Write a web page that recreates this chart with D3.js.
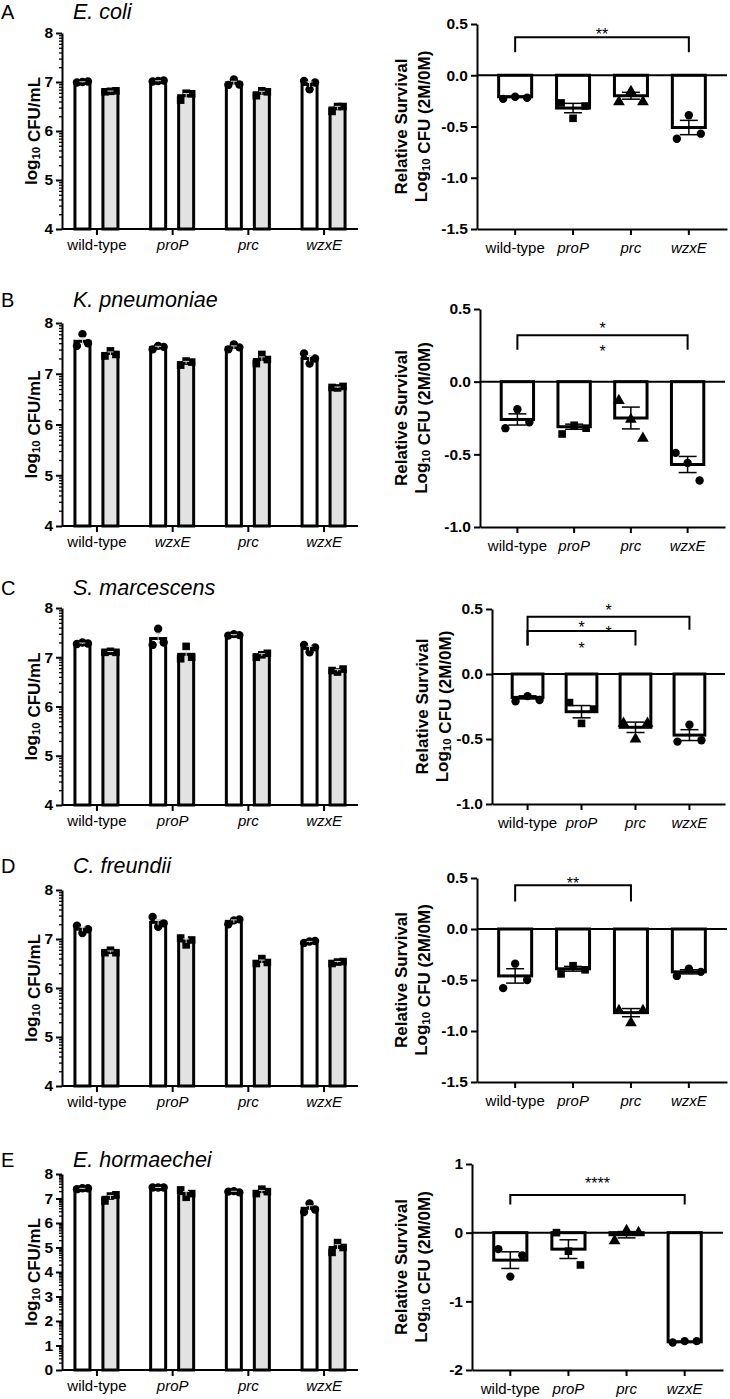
<!DOCTYPE html>
<html>
<head>
<meta charset="utf-8">
<script src="https://cdn.jsdelivr.net/npm/d3@7.9.0/dist/d3.min.js"></script>
<style>
  body { margin: 0; background: #fff; }
  svg text { font-family: 'Liberation Sans', Arial, Helvetica, sans-serif; fill: #000; }
</style>
</head>
<body>
<div id="chart"></div>
<script>
// ---- data ----
const panelLetters = ['A', 'B', 'C', 'D', 'E'];
const species = ['E. coli', 'K. pneumoniae', 'S. marcescens', 'C. freundii', 'E. hormaechei'];

// left charts: log10 CFU/mL, white = 0M, grey = 2M
const cfuGroups = [
  ['wild-type', 'proP', 'prc', 'wzxE'],
  ['wild-type', 'wzxE', 'prc', 'wzxE'],   // printed this way in the figure
  ['wild-type', 'proP', 'prc', 'wzxE'],
  ['wild-type', 'proP', 'prc', 'wzxE'],
  ['wild-type', 'proP', 'prc', 'wzxE']
];
const cfuTicks = [
  [4, 5, 6, 7, 8],
  [4, 5, 6, 7, 8],
  [4, 5, 6, 7, 8],
  [4, 5, 6, 7, 8],
  [0, 1, 2, 3, 4, 5, 6, 7, 8]
];
const cfu0M = [
  [7.00, 7.02, 6.98, 6.95],
  [7.64, 7.52, 7.52, 7.30],
  [7.28, 7.38, 7.45, 7.18],
  [7.20, 7.34, 7.36, 6.94],
  [7.40, 7.45, 7.28, 6.60]
];
const cfu2M = [
  [6.81, 6.72, 6.78, 6.47],
  [7.40, 7.22, 7.28, 6.73],
  [7.11, 7.06, 7.05, 6.73],
  [6.74, 6.96, 6.54, 6.53],
  [7.05, 7.20, 7.28, 5.00]
];
const cfu0MPts = [
  [[6.99, 7.00, 7.01], [7.01, 7.02, 7.03], [6.94, 7.05, 6.95], [7.02, 6.85, 6.99]],
  [[7.55, 7.78, 7.60], [7.48, 7.55, 7.53], [7.48, 7.58, 7.52], [7.40, 7.20, 7.30]],
  [[7.27, 7.30, 7.28], [7.25, 7.58, 7.30], [7.44, 7.47, 7.45], [7.25, 7.10, 7.20]],
  [[7.27, 7.12, 7.20], [7.45, 7.25, 7.32], [7.30, 7.38, 7.40], [6.92, 6.95, 6.96]],
  [[7.38, 7.42, 7.42], [7.45, 7.45, 7.45], [7.28, 7.30, 7.25], [6.45, 6.80, 6.55]]
];
const cfu2MPts = [
  [[6.80, 6.81, 6.82], [6.63, 6.77, 6.76], [6.72, 6.82, 6.80], [6.40, 6.50, 6.50]],
  [[7.35, 7.45, 7.38], [7.17, 7.25, 7.23], [7.20, 7.38, 7.28], [6.73, 6.72, 6.75]],
  [[7.10, 7.12, 7.10], [6.97, 7.22, 7.00], [7.00, 7.05, 7.08], [6.73, 6.70, 6.76]],
  [[6.72, 6.77, 6.72], [7.02, 6.88, 6.98], [6.50, 6.60, 6.52], [6.50, 6.53, 6.54]],
  [[6.90, 7.10, 7.15], [7.35, 7.05, 7.20], [7.20, 7.38, 7.28], [4.80, 5.20, 5.00]]
];

// right charts: relative survival
const survGroups = ['wild-type', 'proP', 'prc', 'wzxE'];
const survShapes = ['circle', 'square', 'triangle', 'circle'];
const survTicks = [
  [0.5, 0, -0.5, -1, -1.5],
  [0.5, 0, -0.5, -1],
  [0.5, 0, -0.5, -1],
  [0.5, 0, -0.5, -1, -1.5],
  [1, 0, -1, -2]
];
const survTickDigits = [1, 1, 1, 1, 0];
const survMean = [
  [-0.21, -0.32, -0.20, -0.51],
  [-0.26, -0.31, -0.25, -0.57],
  [-0.18, -0.29, -0.41, -0.47],
  [-0.46, -0.39, -0.82, -0.42],
  [-0.40, -0.24, -0.03, -1.59]
];
const survPts = [
  [[-0.23, -0.21, -0.22], [-0.27, -0.42, -0.30], [-0.26, -0.16, -0.26], [-0.62, -0.39, -0.57]],
  [[-0.32, -0.19, -0.28], [-0.36, -0.30, -0.32], [-0.13, -0.26, -0.39], [-0.49, -0.56, -0.68]],
  [[-0.21, -0.17, -0.20], [-0.22, -0.38, -0.27], [-0.38, -0.50, -0.38], [-0.52, -0.39, -0.51]],
  [[-0.58, -0.34, -0.50], [-0.44, -0.36, -0.40], [-0.80, -0.92, -0.80], [-0.46, -0.39, -0.42]],
  [[-0.24, -0.64, -0.33], [0.00, -0.27, -0.47], [-0.12, 0.03, 0.00], [-1.60, -1.58, -1.58]]
];
// significance brackets (group indices and heights in data units)
const sigBrackets = [
  [{ from: 0, to: 3, level: 0.37, endL: 0.225, endR: 0.225, marks: [['**', 0.43]] }],
  [{ from: 0, to: 3, level: 0.32, endL: 0.22, endR: 0.22, marks: [['*', 0.39], ['*', 0.23]] }],
  [{ from: 0, to: 3, level: 0.44, endL: 0.22, endR: 0.34, marks: [['*', 0.515], ['*', 0.35]] },
   { from: 0, to: 2, level: 0.33, endL: 0.22, endR: 0.22, marks: [['*', 0.385], ['*', 0.22]] }],
  [{ from: 0, to: 2, level: 0.43, endL: 0.27, endR: 0.27, marks: [['**', 0.48]] }],
  [{ from: 0, to: 3, level: 0.55, endL: 0.41, endR: 0.41, marks: [['****', 0.76]] }]
];

// ---- layout ----
const width = 730, height = 1399;
const rows = [
  { titleY: 19,   L: { top: 33,   bottom: 229 },  R: { top: 24,   bottom: 229,  x0: 477, x1: 727, labelX: 407 } },
  { titleY: 307,  L: { top: 323,  bottom: 526 },  R: { top: 309,  bottom: 527,  x0: 480, x1: 725, labelX: 407 } },
  { titleY: 595,  L: { top: 608,  bottom: 805 },  R: { top: 609,  bottom: 804,  x0: 492, x1: 725, labelX: 428 } },
  { titleY: 873,  L: { top: 890,  bottom: 1086 }, R: { top: 878,  bottom: 1082, x0: 477, x1: 727, labelX: 407 } },
  { titleY: 1167, L: { top: 1174, bottom: 1370 }, R: { top: 1164, bottom: 1370, x0: 472, x1: 723, labelX: 407 } }
];
const leftX0 = 62, leftX1 = 358;

const svg = d3.select('#chart').append('svg')
  .attr('width', width)
  .attr('height', height)
  .attr('viewBox', `0 0 ${width} ${height}`);

const sem = v => d3.deviation(v) / Math.sqrt(v.length);
const shape = {
  circle: d3.symbol().type(d3.symbolCircle).size(55),
  square: d3.symbol().type(d3.symbolSquare).size(58),
  triangle: d3.symbol().type(d3.symbolTriangle).size(60)
};
const tickFont = g => g.selectAll('.tick text')
  .attr('font-size', 15.5).attr('font-weight', 'bold');
const styleAxis = g => {
  g.select('.domain').attr('stroke', '#000').attr('stroke-width', 2);
  g.selectAll('.tick line').attr('stroke', '#000').attr('stroke-width', 2);
};

function yTitle(g, x, yMid, lines) {
  const t = g.append('text')
    .attr('transform', `translate(${x},${yMid}) rotate(-90)`)
    .attr('text-anchor', 'middle')
    .attr('font-weight', 'bold')
    .attr('font-size', 17);
  lines.forEach((ln, k) => {
    const line = t.append('tspan').attr('x', 0).attr('y', k * 20);
    ln.forEach(([txt, isSub]) => {
      line.append('tspan')
        .attr('font-size', isSub ? 11.5 : 17)
        .attr('dy', isSub ? 3 : 0)
        .text(txt);
      if (isSub) line.append('tspan').attr('dy', -3).text('');
    });
  });
}

function drawCfu(i) {
  const cfg = rows[i].L;
  const g = svg.append('g');
  const x = d3.scalePoint().domain(d3.range(4)).range([leftX0, leftX1]).padding(0.455);
  const sub = d3.scaleBand().domain(['0M', '2M']).range([-21.5, 21.5]).paddingInner(0.464);
  const ticks = cfuTicks[i];
  const [lo, hi] = d3.extent(ticks);
  const y = d3.scaleLinear().domain([lo, hi]).range([cfg.bottom, cfg.top]);

  // minor (log) ticks
  const minor = [];
  for (let k = lo; k < hi; k++) for (let m = 2; m <= 9; m++) minor.push(k + Math.log10(m));
  g.append('g')
    .attr('transform', `translate(${leftX0},0)`)
    .call(d3.axisLeft(y).tickValues(minor).tickSize(3).tickFormat(''))
    .call(styleAxis)
    .call(a => a.select('.domain').remove())
    .call(a => a.selectAll('.tick line').attr('stroke-width', 1.3));

  g.append('g')
    .attr('transform', `translate(${leftX0},0)`)
    .call(d3.axisLeft(y).tickValues(ticks).tickSize(6).tickSizeOuter(0).tickPadding(3).tickFormat(d3.format('d')))
    .call(styleAxis)
    .call(tickFont);

  g.append('g')
    .attr('transform', `translate(0,${cfg.bottom})`)
    .call(d3.axisBottom(x).tickSize(6).tickSizeOuter(0).tickPadding(4).tickFormat(j => cfuGroups[i][j]))
    .call(styleAxis)
    .call(a => a.select('.domain').attr('d', `M${leftX0},0H${leftX1}`))
    .call(a => a.selectAll('.tick text')
      .attr('font-size', 15)
      .attr('font-style', j => cfuGroups[i][j] === 'wild-type' ? 'normal' : 'italic'));

  const sets = [
    { key: '0M', means: cfu0M[i], pts: cfu0MPts[i], fill: '#fff', sym: shape.circle },
    { key: '2M', means: cfu2M[i], pts: cfu2MPts[i], fill: '#e2e2e2', sym: shape.square }
  ];
  const bw = sub.bandwidth();
  sets.forEach(s => {
    d3.range(4).forEach(j => {
      const cx = x(j) + sub(s.key) + bw / 2;
      g.append('rect')
        .attr('x', cx - bw / 2).attr('width', bw)
        .attr('y', y(s.means[j])).attr('height', y(lo) - y(s.means[j]))
        .attr('fill', s.fill).attr('stroke', '#000').attr('stroke-width', 3);
      g.selectAll(null).data(s.pts[j]).join('path')
        .attr('d', s.sym)
        .attr('transform', (d, k) => `translate(${cx + (k - 1) * 5.5},${y(d)})`)
        .attr('fill', '#000');
      const e = sem(s.pts[j]);
      const eb = g.append('g').attr('stroke', '#cfcfcf').attr('stroke-width', 1);
      eb.append('line').attr('x1', cx).attr('x2', cx).attr('y1', y(s.means[j] + e)).attr('y2', y(s.means[j] - e));
      eb.append('line').attr('x1', cx - 3).attr('x2', cx + 3).attr('y1', y(s.means[j] + e)).attr('y2', y(s.means[j] + e));
    });
  });

  yTitle(g, 37, (cfg.top + cfg.bottom) / 2, [[['log'], ['10', true], [' CFU/mL']]]);
}

function drawSurv(i) {
  const cfg = rows[i].R;
  const g = svg.append('g');
  const x = d3.scaleBand().domain(d3.range(4)).range([cfg.x0, cfg.x1])
    .paddingInner(0.43).paddingOuter(0.374);
  const ticks = survTicks[i];
  const [lo, hi] = d3.extent(ticks);
  const y = d3.scaleLinear().domain([lo, hi]).range([cfg.bottom, cfg.top]);
  const fmt = v => v.toFixed(survTickDigits[i]);

  g.append('g')
    .attr('transform', `translate(${cfg.x0},0)`)
    .call(d3.axisLeft(y).tickValues(ticks).tickSize(6).tickSizeOuter(0).tickPadding(3).tickFormat(fmt))
    .call(styleAxis)
    .call(tickFont);

  g.append('g')
    .attr('transform', `translate(0,${cfg.bottom})`)
    .call(d3.axisBottom(x).tickSize(6).tickSizeOuter(0).tickPadding(7).tickFormat(j => survGroups[j]))
    .call(styleAxis)
    .call(a => a.selectAll('.tick text')
      .attr('font-size', 15)
      .attr('font-style', j => survGroups[j] === 'wild-type' ? 'normal' : 'italic'));

  const bw = x.bandwidth();
  d3.range(4).forEach(j => {
    const cx = x(j) + bw / 2;
    const m = survMean[i][j];
    g.append('rect')
      .attr('x', x(j)).attr('width', bw)
      .attr('y', y(0)).attr('height', y(m) - y(0))
      .attr('fill', '#fff').attr('stroke', '#000').attr('stroke-width', 3);
    const e = sem(survPts[i][j]);
    const eb = g.append('g').attr('stroke', '#000').attr('stroke-width', 1.5);
    eb.append('line').attr('x1', cx).attr('x2', cx).attr('y1', y(m + e)).attr('y2', y(m - e));
    [m + e, m - e].forEach(v => eb.append('line')
      .attr('x1', cx - 9).attr('x2', cx + 9).attr('y1', y(v)).attr('y2', y(v)));
    g.selectAll(null).data(survPts[i][j]).join('path')
      .attr('d', shape[survShapes[j]])
      .attr('transform', (d, k) => `translate(${cx + (k - 1) * 12},${y(d)})`)
      .attr('fill', '#000');
  });

  // zero line
  g.append('line')
    .attr('x1', cfg.x0).attr('x2', cfg.x1).attr('y1', y(0)).attr('y2', y(0))
    .attr('stroke', '#000').attr('stroke-width', 2);

  // brackets
  const cxOf = j => x(j) + bw / 2;
  sigBrackets[i].forEach(b => {
    const xa = cxOf(b.from), xb = cxOf(b.to);
    g.append('path')
      .attr('d', `M${xa},${y(b.endL)}V${y(b.level)}H${xb}V${y(b.endR)}`)
      .attr('fill', 'none').attr('stroke', '#000').attr('stroke-width', 2);
    b.marks.forEach(([txt, v]) => g.append('text')
      .attr('x', (xa + xb) / 2).attr('y', y(v) + 9)
      .attr('text-anchor', 'middle').attr('font-size', 16)
      .text(txt));
  });

  yTitle(g, cfg.labelX, (cfg.top + cfg.bottom) / 2,
    [[['Relative Survival']], [['Log'], ['10', true], [' CFU (2M/0M)']]]);
}

rows.forEach((r, i) => {
  svg.append('text').attr('x', 1).attr('y', r.titleY)
    .attr('font-size', 20).text(panelLetters[i]);
  svg.append('text').attr('x', 73).attr('y', r.titleY)
    .attr('font-size', 21.5).attr('font-style', 'italic').text(species[i]);
  drawCfu(i);
  drawSurv(i);
});
</script>
</body>
</html>
